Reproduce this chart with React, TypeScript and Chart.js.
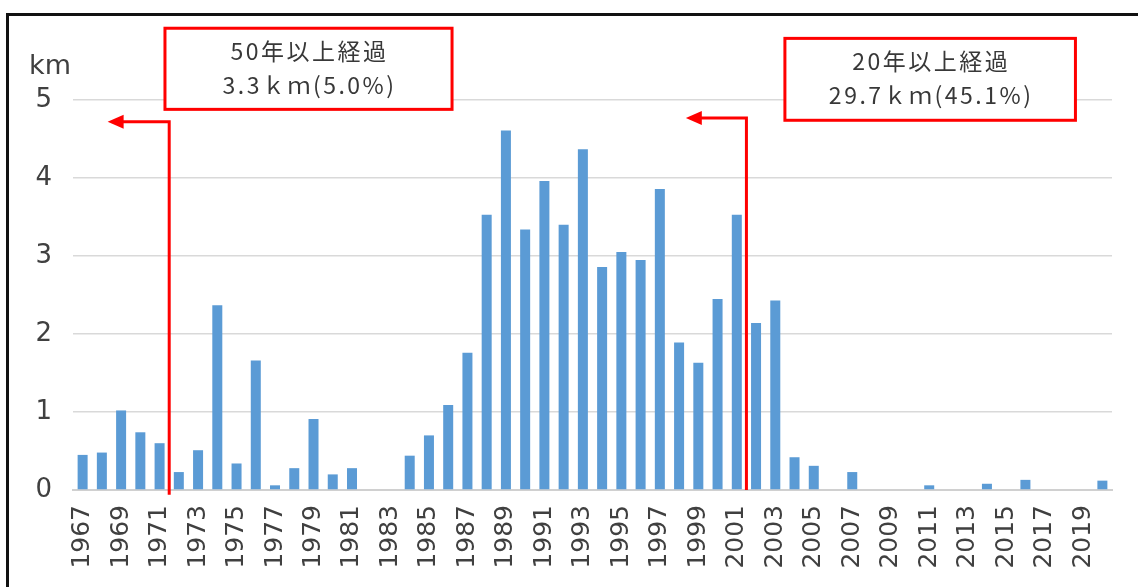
import React, { useEffect, useRef } from "react";
import { Chart, registerables } from "chart.js";

Chart.register(...registerables);

const years = [
  "1967", "1968", "1969", "1970", "1971", "1972", "1973", "1974", "1975", "1976",
  "1977", "1978", "1979", "1980", "1981", "1982", "1983", "1984", "1985", "1986",
  "1987", "1988", "1989", "1990", "1991", "1992", "1993", "1994", "1995", "1996",
  "1997", "1998", "1999", "2000", "2001", "2002", "2003", "2004", "2005", "2006",
  "2007", "2008", "2009", "2010", "2011", "2012", "2013", "2014", "2015", "2016",
  "2017", "2018", "2019", "2020",
];

const lengthKm = [
  0.45, 0.48, 1.02, 0.74, 0.6, 0.23, 0.51, 2.37, 0.34, 1.66,
  0.06, 0.28, 0.91, 0.2, 0.28, 0, 0, 0.44, 0.7, 1.09,
  1.76, 3.53, 4.61, 3.34, 3.96, 3.4, 4.37, 2.86, 3.05, 2.95,
  3.86, 1.89, 1.63, 2.45, 3.53, 2.14, 2.43, 0.42, 0.31, 0,
  0.23, 0, 0, 0, 0.06, 0, 0, 0.08, 0, 0.13,
  0, 0, 0, 0.12,
];

const yTicks = [0, 1, 2, 3, 4, 5];
const unitLabel = "km";

const box50Lines = ["50年以上経過", "3.3ｋｍ(5.0%)"];
const box20Lines = ["20年以上経過", "29.7ｋｍ(45.1%)"];

const RED = "#ff0000";
const TEXT = "#404040";
const FONT_NUM = "'DejaVu Sans', 'Noto Sans', sans-serif";
const FONT_JP = "'Noto Sans CJK JP', 'Noto Sans', sans-serif";

function drawArrow(chart: any, boundaryIdx: number, tipIdx: number, yVal: number, bottomVal: number) {
  const { ctx, scales } = chart;
  const x = scales.x.getPixelForValue(boundaryIdx);
  const xt = scales.x.getPixelForValue(tipIdx);
  const y = scales.y.getPixelForValue(yVal);
  const yb = scales.y.getPixelForValue(bottomVal);
  ctx.save();
  ctx.strokeStyle = RED;
  ctx.fillStyle = RED;
  ctx.lineWidth = 3;
  ctx.beginPath();
  ctx.moveTo(x, yb);
  ctx.lineTo(x, y);
  ctx.lineTo(xt + 12, y);
  ctx.stroke();
  ctx.beginPath();
  ctx.moveTo(xt, y);
  ctx.lineTo(xt + 16, y - 7);
  ctx.lineTo(xt + 16, y + 7);
  ctx.closePath();
  ctx.fill();
  ctx.restore();
}

function drawBox(chart: any, x0: number, x1: number, yTop: number, yBot: number, lines: string[]) {
  const { ctx, scales } = chart;
  const l = scales.x.getPixelForValue(x0);
  const r = scales.x.getPixelForValue(x1);
  const t = scales.y.getPixelForValue(yTop);
  const b = scales.y.getPixelForValue(yBot);
  ctx.save();
  ctx.fillStyle = "#ffffff";
  ctx.fillRect(l, t, r - l, b - t);
  ctx.strokeStyle = RED;
  ctx.lineWidth = 3;
  ctx.strokeRect(l, t, r - l, b - t);
  ctx.fillStyle = "#383838";
  ctx.textAlign = "center";
  ctx.textBaseline = "middle";
  ctx.font = `23px ${FONT_JP}`;
  try { (ctx as any).letterSpacing = "2.5px"; } catch (e) {}
  const cx = (l + r) / 2 + 1;
  const h = b - t;
  ctx.fillText(lines[0], cx, t + h * 0.28);
  ctx.fillText(lines[1], cx, t + h * 0.7);
  ctx.restore();
}

const annotationPlugin = {
  id: "annotations",
  beforeDraw(chart: any) {
    const { ctx, width, height } = chart;
    ctx.save();
    ctx.fillStyle = "#ffffff";
    ctx.fillRect(0, 0, width, height);
    ctx.fillStyle = "#111111";
    ctx.fillRect(6, 13, width - 6, 3);
    ctx.fillRect(6, 13, 3, height - 13);
    ctx.restore();
  },
  afterDraw(chart: any) {
    const { ctx, scales } = chart;
    ctx.save();
    ctx.fillStyle = TEXT;
    ctx.font = `27px ${FONT_NUM}`;
    ctx.textAlign = "center";
    ctx.textBaseline = "middle";
    ctx.fillText(unitLabel, 50, scales.y.getPixelForValue(5.42));
    ctx.restore();
    drawArrow(chart, 4.5, 1.3, 4.72, -0.06);
    drawArrow(chart, 34.5, 31.35, 4.77, 0);
    drawBox(chart, 4.28, 19.2, 5.92, 4.88, box50Lines);
    drawBox(chart, 36.5, 51.6, 5.79, 4.74, box20Lines);
  },
};

export default function App() {
  const ref = useRef<HTMLCanvasElement | null>(null);
  useEffect(() => {
    if (!ref.current) return;
    const chart = new Chart(ref.current, {
      type: "bar",
      data: {
        labels: years,
        datasets: [
          {
            data: lengthKm,
            backgroundColor: "#5b9bd5",
            barPercentage: 0.52,
            categoryPercentage: 1,
          },
        ],
      },
      options: {
        animation: false,
        responsive: false,
        events: [],
        layout: { padding: { left: 0, right: 26, top: 100, bottom: 0 } },
        plugins: { legend: { display: false }, tooltip: { enabled: false } },
        scales: {
          x: {
            grid: { display: false, drawTicks: false },
            border: { color: "#d0d0d0", width: 2 },
            afterFit: (s: any) => {
              s.height = 97;
              s.paddingLeft = 0;
              s.paddingRight = 0;
            },
            ticks: {
              autoSkip: false,
              minRotation: 90,
              maxRotation: 90,
              padding: 15,
              color: TEXT,
              font: { family: FONT_NUM, size: 25 },
              callback: (_v: any, i: number) => (i % 2 === 0 ? years[i] : ""),
            },
          },
          y: {
            min: 0,
            max: 5,
            afterFit: (s: any) => {
              s.width = 73;
              s.paddingTop = 0;
              s.paddingBottom = 0;
            },
            afterBuildTicks: (s: any) => { s.ticks = yTicks.map((v) => ({ value: v })); },
            grid: { color: "#d9d9d9", lineWidth: 1.5, drawTicks: false },
            border: { display: false },
            ticks: {
              padding: 21,
              color: TEXT,
              font: { family: FONT_NUM, size: 26 },
            },
          },
        },
      },
      plugins: [annotationPlugin],
    });
    return () => chart.destroy();
  }, []);
  return (
    <div style={{ position: "absolute", left: 0, top: 0, width: 1138, height: 587, background: "#fff" }}>
      <canvas ref={ref} width={1138} height={587} />
    </div>
  );
}
